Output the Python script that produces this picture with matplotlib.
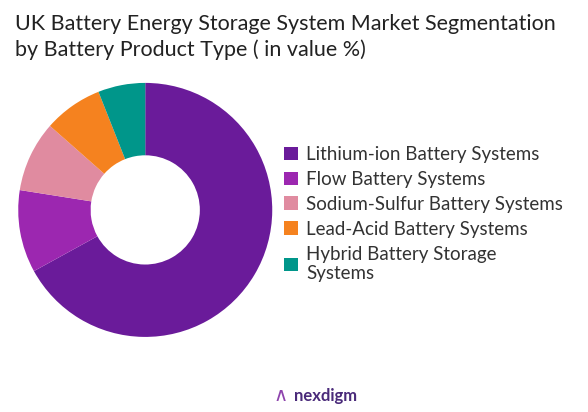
import matplotlib.pyplot as plt

labels = ["Lithium-ion Battery Systems", "Flow Battery Systems",
          "Sodium-Sulfur Battery Systems", "Lead-Acid Battery Systems",
          "Hybrid Battery Storage\nSystems"]
values = [67, 10.5, 9, 7.5, 6]
colors = ["#6a1b9a", "#9c27b0", "#e08ba0", "#f5821f", "#00968a"]

plt.rcParams['font.family'] = ['Lato', 'DejaVu Sans']
fig = plt.figure(figsize=(5.88, 4.12), dpi=100)

ax = fig.add_axes([0.031, 0.182, 0.432, 0.617])
wedges, _ = ax.pie(values, colors=colors, startangle=90, counterclock=False,
                   wedgeprops=dict(width=0.57, linewidth=0))
ax.set_aspect('equal')
ax.set_xlim(-1, 1)
ax.set_ylim(-1, 1)

fig.text(0.026, 0.965, "UK Battery Energy Storage System Market Segmentation\nby Battery Product Type ( in value %)",
         fontsize=15.5, va='top', ha='left', color='#222222', linespacing=1.3)

fig.legend(wedges, labels, loc='center left', bbox_to_anchor=(0.47, 0.48),
           frameon=False, fontsize=13.5, handlelength=0.75, handleheight=0.75,
           handletextpad=0.45, labelspacing=0.42, labelcolor='#333333',
           borderaxespad=0)

fig.text(0.5, 0.04, "nexdigm", fontsize=12, ha='left', va='center',
         color='#4a2a7a', weight='bold')
fig.text(0.465, 0.04, "\u2227", fontsize=14, ha='left', va='center', color='#8e44ad')

fig.savefig("out.png", dpi=100)
